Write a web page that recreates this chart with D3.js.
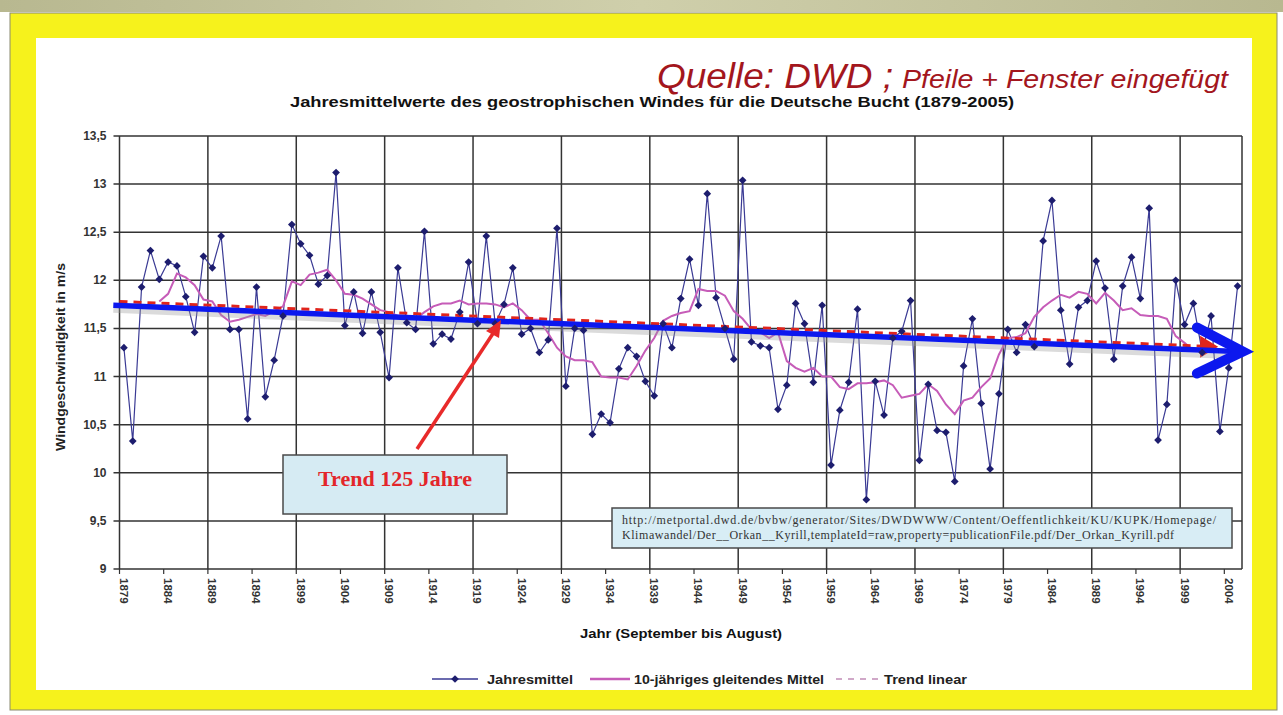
<!DOCTYPE html>
<html>
<head>
<meta charset="utf-8">
<script src="https://cdnjs.cloudflare.com/ajax/libs/d3/7.8.5/d3.min.js"></script>
<style>
body { margin: 0; background: #fff; }
svg { display: block; font-family: "Liberation Sans", Arial, sans-serif; }
</style>
</head>
<body>
<svg id="chart" width="1283" height="715"></svg>
<script>
// Jahresmittel des geostrophischen Windes, Deutsche Bucht 1879-2005 (m/s)
var years = d3.range(1879, 2006)
var jahresmittel = [
    11.30, 10.33, 11.93, 12.31, 12.01, 12.19, 12.15, 11.83, 11.46, 12.25,
    12.13, 12.46, 11.49, 11.49, 10.56, 11.93, 10.79, 11.17, 11.63, 12.58,
    12.38, 12.26, 11.96, 12.05, 13.12, 11.53, 11.88, 11.45, 11.88, 11.46,
    10.99, 12.13, 11.56, 11.49, 12.51, 11.34, 11.44, 11.39, 11.67, 12.19,
    11.55, 12.46, 11.55, 11.75, 12.13, 11.44, 11.50, 11.25, 11.38, 12.54,
    10.90, 11.50, 11.48, 10.40, 10.61, 10.52, 11.08, 11.30, 11.21, 10.95,
    10.80, 11.55, 11.30, 11.81, 12.22, 11.74, 12.90, 11.82, 11.50, 11.18,
    13.04, 11.36, 11.32, 11.30, 10.66, 10.91, 11.76, 11.55, 10.94, 11.74,
    10.08, 10.65, 10.94, 11.70, 9.72, 10.95, 10.60, 11.40, 11.47, 11.79,
    10.13, 10.92, 10.44, 10.42, 9.91, 11.11, 11.60, 10.72, 10.04, 10.82,
    11.49, 11.25, 11.54, 11.31, 12.41, 12.83, 11.69, 11.13, 11.72, 11.79,
    12.20, 11.92, 11.18, 11.94, 12.24, 11.81, 12.75, 10.34, 10.71, 12.00,
    11.54, 11.76, 11.25, 11.63, 10.43, 11.09, 11.94
]
// 10-jähriges gleitendes Mittel, plotted 1883-2000
var maStart = 1883
var gleitendesMittel = [
    11.78, 11.86, 12.07, 12.03, 11.95, 11.80, 11.78, 11.64, 11.57, 11.59,
    11.62, 11.65, 11.63, 11.68, 11.73, 11.99, 11.95, 12.06, 12.08, 12.11,
    12.00, 11.86, 11.85, 11.81, 11.75, 11.69, 11.67, 11.63, 11.62, 11.60,
    11.67, 11.73, 11.76, 11.76, 11.79, 11.75, 11.76, 11.76, 11.75, 11.72,
    11.76, 11.69, 11.59, 11.59, 11.45, 11.30, 11.21, 11.17, 11.17, 11.15,
    11.00, 10.99, 10.99, 10.97, 11.11, 11.27, 11.40, 11.58, 11.63, 11.66,
    11.68, 11.91, 11.89, 11.89, 11.84, 11.68, 11.60, 11.49, 11.46, 11.40,
    11.46, 11.16, 11.09, 11.05, 11.09, 11.00, 11.00, 10.89, 10.87, 10.93,
    10.93, 10.94, 10.96, 10.91, 10.78, 10.80, 10.82, 10.92, 10.85, 10.71,
    10.61, 10.75, 10.78, 10.89, 10.98, 11.23, 11.40, 11.41, 11.45, 11.62,
    11.72, 11.79, 11.85, 11.82, 11.88, 11.86, 11.76, 11.87, 11.79, 11.69,
    11.71, 11.64, 11.63, 11.63, 11.60, 11.42, 11.35, 11.27
]
// hand-drawn arrows (year, m/s)
var roterTrend = [[1878.5, 11.78], [2002.8, 11.31]]
var blauerPfeil = [[1877.8, 11.74], [2005.6, 11.26]]

var yTicks = [9, 9.5, 10, 10.5, 11, 11.5, 12, 12.5, 13, 13.5]
var xTickYears = [1879, 1884, 1889, 1894, 1899, 1904, 1909, 1914, 1919, 1924, 1929, 1934,
    1939, 1944, 1949, 1954, 1959, 1964, 1969, 1974, 1979, 1984, 1989, 1994, 1999, 2004]
var legendItems = ["Jahresmittel", "10-jähriges gleitendes Mittel", "Trend linear"]

var svg = d3.select("#chart")

// frame
var topGrad = svg.append("defs").append("linearGradient").attr("id", "band").attr("x1", 0).attr("x2", 1)
topGrad.append("stop").attr("offset", "0%").attr("stop-color", "#b8b890")
topGrad.append("stop").attr("offset", "50%").attr("stop-color", "#cfcfab")
topGrad.append("stop").attr("offset", "100%").attr("stop-color", "#b8b890")
svg.append("rect").attr("x", 0).attr("y", 0).attr("width", 1283).attr("height", 12).attr("fill", "url(#band)")
svg.append("rect").attr("x", 10).attr("y", 13).attr("width", 1267).attr("height", 697)
    .attr("fill", "#f6f21c").attr("stroke", "#8a8a70").attr("stroke-width", 1)
svg.append("rect").attr("x", 36).attr("y", 38).attr("width", 1216).attr("height", 652).attr("fill", "#fff")

var pL = 119.5, pR = 1242, pT = 136, pB = 569
var x = d3.scaleBand().domain(years).range([pL, pR]).padding(0)
var xc = function(yr) { return x(yr) + x.bandwidth() / 2 }
var xLin = d3.scaleLinear().domain([1879, 2005]).range([xc(1879), xc(2005)])
var y = d3.scaleLinear().domain([9, 13.5]).range([pB, pT])

// grid
var grid = svg.append("g")
grid.selectAll("line.h").data(yTicks).enter().append("line")
    .attr("x1", pL - 6).attr("x2", pR)
    .attr("y1", function(d) { return y(d) }).attr("y2", function(d) { return y(d) })
    .attr("stroke", "#333").attr("stroke-width", 1.5)
var vYears = years.filter(function(d, i) { return i % 10 === 0 })
grid.selectAll("line.v").data(vYears).enter().append("line")
    .attr("x1", function(d) { return x(d) }).attr("x2", function(d) { return x(d) })
    .attr("y1", pT).attr("y2", pB)
    .attr("stroke", "#333").attr("stroke-width", 1.5)
grid.append("line").attr("x1", pR).attr("x2", pR).attr("y1", pT).attr("y2", pB)
    .attr("stroke", "#333").attr("stroke-width", 1.5)
var tYears = years.filter(function(d, i) { return i % 5 === 0 })
grid.selectAll("line.t").data(tYears).enter().append("line")
    .attr("x1", function(d) { return x(d) }).attr("x2", function(d) { return x(d) })
    .attr("y1", pB).attr("y2", pB + 5)
    .attr("stroke", "#333").attr("stroke-width", 1.2)

// y labels
svg.append("g").selectAll("text").data(yTicks).enter().append("text")
    .attr("x", pL - 13).attr("y", function(d) { return y(d) + 4 })
    .attr("text-anchor", "end").attr("font-size", 12).attr("font-weight", "bold").attr("fill", "#333")
    .text(function(d) { return String(d).replace(".", ",") })
svg.append("text").attr("transform", "translate(65,357) rotate(-90)")
    .attr("text-anchor", "middle").attr("font-size", 12).attr("font-weight", "bold").attr("fill", "#222")
    .attr("textLength", 188).attr("lengthAdjust", "spacingAndGlyphs")
    .text("Windgeschwindigkeit in m/s")

// x labels
svg.append("g").selectAll("text").data(xTickYears).enter().append("text")
    .attr("transform", function(d) { return "translate(" + (xc(d) - 4) + "," + (pB + 9) + ") rotate(90)" })
    .attr("font-size", 11.5).attr("font-weight", "bold").attr("fill", "#333")
    .text(function(d) { return d })
svg.append("text").attr("x", 681).attr("y", 638).attr("text-anchor", "middle")
    .attr("font-size", 13).attr("font-weight", "bold").attr("fill", "#111")
    .attr("textLength", 202).attr("lengthAdjust", "spacingAndGlyphs")
    .text("Jahr (September bis August)")

// titles
svg.append("text").attr("x", 652).attr("y", 107).attr("text-anchor", "middle")
    .attr("font-size", 14).attr("font-weight", "bold").attr("fill", "#111")
    .attr("textLength", 724).attr("lengthAdjust", "spacingAndGlyphs")
    .text("Jahresmittelwerte des geostrophischen Windes für die Deutsche Bucht (1879-2005)")
svg.append("text").attr("x", 657).attr("y", 88).attr("fill", "#a3161d").attr("font-style", "italic")
    .attr("font-size", 35).attr("textLength", 236).attr("lengthAdjust", "spacingAndGlyphs")
    .text("Quelle: DWD ;")
svg.append("text").attr("x", 902).attr("y", 88).attr("fill", "#a3161d").attr("font-style", "italic")
    .attr("font-size", 25).attr("textLength", 326).attr("lengthAdjust", "spacingAndGlyphs")
    .text("Pfeile + Fenster eingefügt")

// Jahresmittel line
var series = years.map(function(d, i) { return { year: d, v: jahresmittel[i] } })
svg.append("path").datum(series)
    .attr("d", d3.line().x(function(d) { return xc(d.year) }).y(function(d) { return y(d.v) }))
    .attr("fill", "none").attr("stroke", "#3a3a94").attr("stroke-width", 1.2)

// gleitendes Mittel
var maData = gleitendesMittel.map(function(v, i) { return { year: maStart + i, v: v } })
svg.append("path").datum(maData)
    .attr("d", d3.line().x(function(d) { return xc(d.year) }).y(function(d) { return y(d.v) }))
    .attr("fill", "none").attr("stroke", "#c65cb8").attr("stroke-width", 2)

// red dashed trend with head
var rt = roterTrend.map(function(p) { return [xLin(p[0]), y(p[1])] })
svg.append("line").attr("x1", rt[0][0]).attr("y1", rt[0][1]).attr("x2", rt[1][0] - 14).attr("y2", rt[1][1] - 0.5)
    .attr("stroke", "#e0241c").attr("stroke-width", 3).attr("stroke-dasharray", "8,6")
svg.append("path")
    .attr("d", "M" + rt[1][0] + "," + rt[1][1] + " l-18,-11 l0,22 Z")
    .attr("fill", "#e0241c")

// blue arrow with soft shadow
var bp = blauerPfeil.map(function(p) { return [xLin(p[0]), y(p[1])] })
svg.append("line").attr("x1", bp[0][0]).attr("y1", bp[0][1] + 5).attr("x2", bp[1][0] - 12).attr("y2", bp[1][1] + 5)
    .attr("stroke", "#9a9a9a").attr("stroke-width", 5).attr("opacity", 0.35)
svg.append("line").attr("x1", bp[0][0]).attr("y1", bp[0][1]).attr("x2", bp[1][0] - 6).attr("y2", bp[1][1])
    .attr("stroke", "#0c18ee").attr("stroke-width", 5.5)
svg.append("path")
    .attr("d", "M" + (bp[1][0] - 46) + "," + (bp[1][1] - 24) + " L" + bp[1][0] + "," + bp[1][1] + " L" + (bp[1][0] - 46) + "," + (bp[1][1] + 22))
    .attr("fill", "none").attr("stroke", "#0c18ee").attr("stroke-width", 10)
    .attr("stroke-linecap", "round").attr("stroke-linejoin", "miter")

// diamonds
var diamond = d3.symbol().type(d3.symbolSquare).size(30)
svg.append("g").selectAll("path").data(series).enter().append("path")
    .attr("transform", function(d) { return "translate(" + xc(d.year) + "," + y(d.v) + ") rotate(45)" })
    .attr("d", diamond)
    .attr("fill", "#1d1d6e")

// annotation box "Trend 125 Jahre" with red arrow
svg.append("line").attr("x1", 417).attr("y1", 449).attr("x2", 494).attr("y2", 332)
    .attr("stroke", "#e82a2a").attr("stroke-width", 3.5)
svg.append("path").attr("d", "M501,320 L486,331 L499,338 Z").attr("fill", "#e82a2a")
svg.append("rect").attr("x", 283).attr("y", 455).attr("width", 224).attr("height", 59)
    .attr("fill", "#d6ebf3").attr("stroke", "#4a4a4a").attr("stroke-width", 1.5)
svg.append("text").attr("x", 395).attr("y", 486).attr("text-anchor", "middle")
    .attr("font-family", "'Liberation Serif', 'Times New Roman', serif").attr("font-weight", "bold")
    .attr("font-size", 22).attr("fill", "#e3262a").text("Trend 125 Jahre")

// URL box
svg.append("rect").attr("x", 612).attr("y", 508).attr("width", 620).attr("height", 40)
    .attr("fill", "#d8edf5").attr("stroke", "#4a4a4a").attr("stroke-width", 1.5)
var urlT = svg.append("text").attr("font-family", "'Liberation Serif', 'Times New Roman', serif")
    .attr("font-size", 12).attr("fill", "#333").attr("lengthAdjust", "spacingAndGlyphs")
urlT.append("tspan").attr("x", 622).attr("y", 524).attr("textLength", 594)
    .text("http://metportal.dwd.de/bvbw/generator/Sites/DWDWWW/Content/Oeffentlichkeit/KU/KUPK/Homepage/")
urlT.append("tspan").attr("x", 622).attr("y", 539).attr("textLength", 552)
    .text("Klimawandel/Der__Orkan__Kyrill,templateId=raw,property=publicationFile.pdf/Der_Orkan_Kyrill.pdf")

// legend
var lg = svg.append("g").attr("font-size", 13).attr("font-weight", "bold").attr("fill", "#222")
lg.append("line").attr("x1", 432).attr("x2", 478).attr("y1", 679).attr("y2", 679).attr("stroke", "#3a3a94").attr("stroke-width", 1.5)
lg.append("path").attr("transform", "translate(455,679) rotate(45)").attr("d", diamond).attr("fill", "#1d1d6e")
lg.append("text").attr("x", 487).attr("y", 684).attr("textLength", 86).attr("lengthAdjust", "spacingAndGlyphs").text(legendItems[0])
lg.append("line").attr("x1", 590).attr("x2", 630).attr("y1", 679).attr("y2", 679).attr("stroke", "#c65cb8").attr("stroke-width", 2.5)
lg.append("text").attr("x", 634).attr("y", 684).attr("textLength", 190).attr("lengthAdjust", "spacingAndGlyphs").text(legendItems[1])
lg.append("line").attr("x1", 836).attr("x2", 878).attr("y1", 679).attr("y2", 679).attr("stroke", "#d0a8c8").attr("stroke-width", 2).attr("stroke-dasharray", "6,6")
lg.append("text").attr("x", 884).attr("y", 684).attr("textLength", 83).attr("lengthAdjust", "spacingAndGlyphs").text(legendItems[2])
</script>
</body>
</html>
